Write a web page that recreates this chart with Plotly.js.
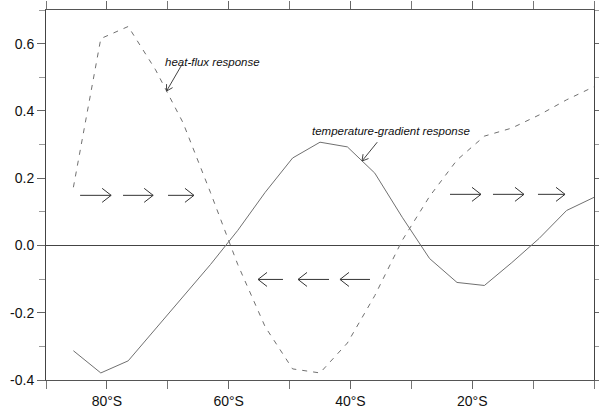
<!DOCTYPE html>
<html>
<head>
<meta charset="utf-8">
<script src="https://cdn.plot.ly/plotly-3.0.1.min.js"></script>
<style>html,body{margin:0;padding:0;background:#fff;}#chart{width:599px;height:415px;}</style>
</head>
<body>
<div id="chart"></div>
<script>
// Latitude grid (negative = southern hemisphere), 4.5 degree spacing
const latitudes = [-85.5, -81, -76.5, -72, -67.5, -63, -58.5, -54, -49.5, -45, -40.5, -36, -31.5, -27, -22.5, -18, -13.5, -9, -4.5, 0];
// temperature-gradient response (solid)
const tempGradResponse = [-0.313, -0.379, -0.343, -0.248, -0.152, -0.057, 0.045, 0.158, 0.260, 0.307, 0.293, 0.215, 0.084, -0.039, -0.110, -0.119, -0.051, 0.021, 0.104, 0.143];
// heat-flux response (dashed)
const heatFluxResponse = [0.173, 0.615, 0.651, 0.522, 0.365, 0.158, -0.057, -0.242, -0.367, -0.379, -0.290, -0.149, 0.015, 0.146, 0.254, 0.325, 0.349, 0.388, 0.433, 0.472];

const xTickVals = [-80, -60, -40, -20];
const xTickText = ['80°S', '60°S', '40°S', '20°S'];
const yTickVals = [-0.4, -0.2, 0.0, 0.2, 0.4, 0.6];
const yTickText = ['-0.4', '-0.2', '0.0', '0.2', '0.4', '0.6'];

// Flow arrows: [tailLat, headLat, value]
const eastArrows = [[-84.4, -79.3, 0.149], [-77.35, -72.4, 0.149], [-69.96, -65.7, 0.149],
                    [-23.65, -18.56, 0.152], [-16.59, -11.5, 0.152], [-9.2, -4.76, 0.152]];
const westArrows = [[-51.08, -55.18, -0.101], [-43.52, -48.61, -0.101], [-36.79, -41.72, -0.101]];

const labels = [
  {text: 'heat-flux response', x: -62.65, y: 0.546, tail: [-67.7, 0.537], head: [-70.2, 0.459]},
  {text: 'temperature-gradient response', x: -33.4, y: 0.340, tail: [-35.6, 0.307], head: [-38.1, 0.251]}
];

const xRange = [-90, 0], yRange = [-0.4, 0.7];
const W = 599, H = 415, M = {l: 46, r: 5, t: 10, b: 35};
const pxPerX = (W - M.l - M.r) / (xRange[1] - xRange[0]);
const pxPerY = (H - M.t - M.b) / (yRange[1] - yRange[0]);

const traces = [
  {x: latitudes, y: tempGradResponse, type: 'scatter', mode: 'lines',
   line: {color: '#707070', width: 1}, name: 'temperature-gradient response'},
  {x: latitudes, y: heatFluxResponse, type: 'scatter', mode: 'lines',
   line: {color: '#707070', width: 1, dash: '5px,6px'}, name: 'heat-flux response'}
];

const shapes = [];
const annotations = [];
// arrow: shaft in data coords, open chevron head sized in pixels
function arrow(tx, ty, hx, hy, len, half, color) {
  shapes.push({type: 'line', xref: 'x', yref: 'y', x0: tx, y0: ty, x1: hx, y1: hy,
               line: {color: color, width: 1}});
  // direction in pixel space (y up)
  let dx = (hx - tx) * pxPerX, dy = (hy - ty) * pxPerY;
  const n = Math.hypot(dx, dy); dx /= n; dy /= n;
  const px = -dy, py = dx;
  const b1x = -dx * len + px * half, b1y = -dy * len + py * half;
  const b2x = -dx * len - px * half, b2y = -dy * len - py * half;
  shapes.push({type: 'path', xref: 'x', yref: 'y', xsizemode: 'pixel', ysizemode: 'pixel',
               xanchor: hx, yanchor: hy,
               path: `M${b1x.toFixed(2)},${b1y.toFixed(2)} L0,0 L${b2x.toFixed(2)},${b2y.toFixed(2)}`,
               line: {color: color, width: 1}});
}
eastArrows.forEach(a => arrow(a[0], a[2], a[1], a[2], 9, 7, '#333'));
westArrows.forEach(a => arrow(a[0], a[2], a[1], a[2], 9, 7, '#333'));
labels.forEach(l => {
  annotations.push({x: l.x, y: l.y, xref: 'x', yref: 'y', text: l.text, showarrow: false,
    font: {family: 'Liberation Sans, Arial, sans-serif', size: 11.5, color: '#111', style: 'italic'}});
  arrow(l.tail[0], l.tail[1], l.head[0], l.head[1], 6, 3.5, '#444');
});

const layout = {
  width: W, height: H,
  margin: M,
  paper_bgcolor: '#fff', plot_bgcolor: '#fff',
  showlegend: false,
  font: {family: 'Liberation Sans, Arial, sans-serif', size: 14, color: '#111'},
  xaxis: {
    range: xRange, tickvals: xTickVals, ticktext: xTickText,
    ticks: 'outside', ticklen: 8, tickcolor: '#666', tickwidth: 1,
    showline: true, linecolor: '#555', linewidth: 1, mirror: 'ticks',
    showgrid: false, zeroline: false,
    minor: {dtick: 10, ticks: 'outside', ticklen: 8, tickcolor: '#777', showgrid: false}
  },
  yaxis: {
    range: yRange, tickvals: yTickVals, ticktext: yTickText,
    ticks: 'outside', ticklen: 8, tickcolor: '#666', tickwidth: 1,
    showline: true, linecolor: '#444', linewidth: 1, mirror: 'ticks',
    showgrid: false, zeroline: true, zerolinecolor: '#444', zerolinewidth: 1,
    minor: {dtick: 0.1, ticks: 'outside', ticklen: 6, tickcolor: '#999', showgrid: false}
  },
  shapes: shapes,
  annotations: annotations
};

Plotly.newPlot('chart', traces, layout, {displayModeBar: false, staticPlot: true});
</script>
</body>
</html>
